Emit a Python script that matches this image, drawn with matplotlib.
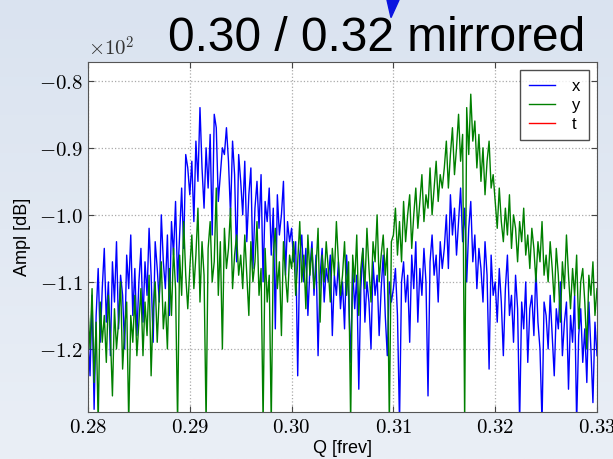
import numpy as np
import matplotlib
matplotlib.use('Agg')
import matplotlib.pyplot as plt
from matplotlib.patches import Polygon
from matplotlib.ticker import MultipleLocator, FuncFormatter

# spectrum, Q from 0.28 to 0.33 in steps of 0.0002
ampl_x = [
    -118, -124, -112, -129, -115, -108, -119, -111, -105, -116, -110, -121, -107, -113, -104, -117, -109, -112, -120, -106, -111, -103, -115, -108, -118,
    -110, -105, -116, -107, -112, -102, -109, -119, -104, -108, -113, -100, -107, -111, -103, -115, -101, -106, -98, -110, -103, -96, -105, -91, -93,
    -97, -92, -101, -89, -95, -84, -93, -99, -90, -96, -88, -103, -85, -87, -98, -94, -90, -91, -87, -92, -100, -89, -94, -107, -91,
    -95, -100, -92, -104, -97, -93, -108, -99, -95, -102, -94, -110, -98, -101, -96, -106, -99, -117, -97, -103, -100, -95, -109, -101, -104,
    -102, -107, -104, -124, -106, -103, -110, -105, -115, -108, -104, -112, -106, -121, -109, -105, -113, -108, -110, -106, -118, -109, -112, -107, -114,
    -110, -117, -106, -112, -122, -108, -114, -109, -126, -111, -105, -116, -110, -113, -120, -107, -112, -109, -118, -111, -106, -115, -121, -110, -113,
    -111, -108, -115, -131, -110, -107, -113, -109, -119, -106, -111, -104, -116, -108, -112, -105, -110, -127, -107, -103, -109, -106, -113, -104, -108,
    -105, -100, -108, -97, -103, -99, -106, -101, -96, -104, -99, -110, -102, -98, -107, -103, -111, -105, -108, -113, -104, -109, -123, -106, -112,
    -110, -116, -108, -113, -121, -111, -106, -115, -112, -119, -109, -114, -131, -113, -117, -110, -122, -114, -112, -118, -108, -116, -120, -131, -113,
    -115, -120, -112, -118, -124, -114, -117, -110, -121, -116, -113, -126, -115, -119, -112, -131, -118, -114, -122, -117, -125, -113, -120, -128, -116, -121,
]
ampl_y = [
    -114, -120, -111, -125, -116, -131, -113, -119, -115, -122, -112, -118, -127, -114, -120, -116, -110, -123, -117, -113, -131, -115, -119, -112, -121,
    -116, -111, -121, -113, -118, -109, -124, -114, -110, -119, -112, -107, -117, -113, -120, -108, -115, -105, -111, -131, -106, -112, -101, -109, -114,
    -108, -103, -111, -106, -99, -113, -104, -109, -131, -105, -101, -110, -107, -96, -112, -104, -120, -102, -108, -105, -99, -111, -106, -103, -109,
    -106, -111, -103, -109, -115, -104, -110, -107, -101, -112, -108, -131, -105, -113, -109, -131, -106, -102, -111, -107, -118, -104, -109, -113, -106,
    -108, -104, -112, -107, -101, -110, -106, -114, -103, -109, -105, -111, -108, -102, -116, -106, -110, -104, -108, -113, -105, -109, -101, -107, -112,
    -109, -104, -112, -107, -131, -106, -110, -103, -115, -108, -105, -111, -102, -108, -113, -104, -107, -100, -110, -106, -103, -109, -105, -131, -104,
    -103, -99, -106, -101, -107, -98, -104, -100, -97, -105, -100, -96, -102, -98, -94, -101, -97, -99, -93, -100, -96, -92, -98, -94, -96,
    -93, -89, -96, -91, -87, -94, -90, -85, -92, -88, -131, -84, -91, -82, -89, -86, -93, -88, -95, -90, -97, -92, -89, -96, -94,
    -98, -102, -96, -101, -104, -99, -103, -97, -105, -100, -102, -107, -101, -104, -99, -106, -103, -108, -102, -105, -110, -104, -107, -101, -109,
    -106, -110, -104, -108, -113, -105, -109, -116, -107, -111, -103, -109, -114, -108, -112, -106, -117, -110, -108, -113, -120, -109, -112, -107, -115, -111,
]
ampl_t = []

q = np.linspace(0.28, 0.33, len(ampl_x))

plt.rcParams['mathtext.fontset'] = 'cm'

fig = plt.figure(figsize=(6.13, 4.59), dpi=100)

# slide background
bg = fig.add_axes([0, 0, 1, 1], zorder=0)
top = np.array([218, 227, 240]) / 255.
bottom = np.array([234, 239, 246]) / 255.
grad = np.linspace(0, 1, 256)[:, None, None] * (bottom - top) + top
bg.imshow(np.repeat(grad, 2, axis=1), aspect='auto', extent=[0, 1, 0, 1])
bg.axis('off')

ax = fig.add_axes([88/613., 47/459., 509/613., 350/459.], zorder=1)
ax.set_facecolor('white')
ax.plot(q, ampl_x, 'b-', lw=1.0, label='x')
ax.plot(q, ampl_y, 'g-', lw=1.0, label='y')
ax.plot(q[:len(ampl_t)], ampl_t, 'r-', lw=1.0, label='t')

ax.set_xlim(0.28, 0.33)
ax.set_ylim(-129.4, -77.2)
ax.xaxis.set_major_locator(MultipleLocator(0.01))
ax.yaxis.set_major_locator(MultipleLocator(10))
ax.xaxis.set_major_formatter(FuncFormatter(lambda v, p: r'$%.2f$' % v))
ax.yaxis.set_major_formatter(FuncFormatter(lambda v, p: r'$%.1f$' % (v / 100.)))
ax.tick_params(direction='in', top=True, right=True, labelsize=15, length=4, color='#444444')
ax.grid(True, ls=':', color='#aaaaaa', lw=0.9)
for s in ax.spines.values():
    s.set_color('#555555')

ax.text(0, 1.005, r'$\times10^{2}$', transform=ax.transAxes, fontsize=15, va='bottom', ha='left', color='#333333')
ax.set_xlabel('Q [frev]', fontsize=13, family='Liberation Sans', labelpad=2)
ax.set_ylabel('Ampl [dB]', fontsize=13, family='Liberation Sans', labelpad=6)

leg = ax.legend(loc='upper right', fancybox=False, edgecolor='#222222',
                handlelength=1.6, handletextpad=1.0, labelspacing=0.25, borderpad=0.5,
                prop={'family': 'Liberation Sans', 'size': 12})
leg.get_frame().set_linewidth(1.0)

fig.text(377/613., 1 - 51/459., '0.30 / 0.32 mirrored', ha='center', va='baseline',
         fontsize=34.5, family='Liberation Sans', zorder=3)

# blue pointer at top of the slide
tri = Polygon([(387/613., 1.0), (399/613., 1.0), (391/613., 1 - 17.6/459.)],
              closed=True, transform=fig.transFigure, color='#0a14e0', zorder=4)
fig.add_artist(tri)

fig.savefig('out.png', dpi=100)
